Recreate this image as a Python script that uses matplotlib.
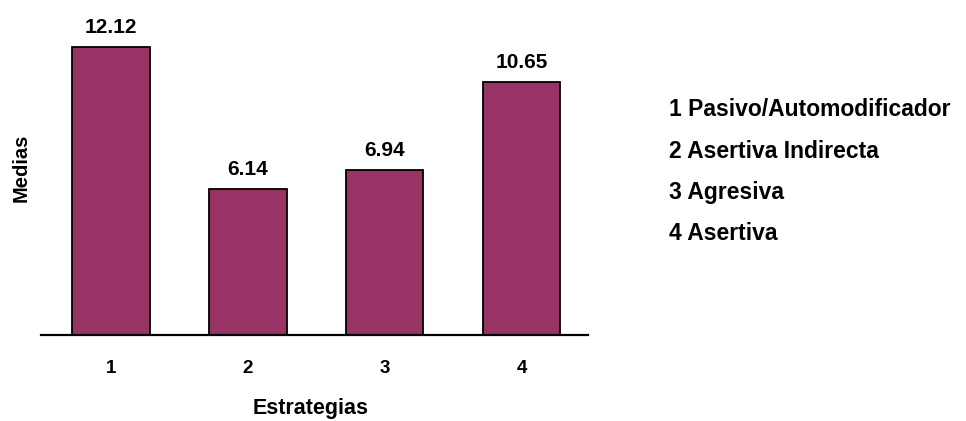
import matplotlib.pyplot as plt

plt.rcParams["font.family"] = ["Liberation Sans", "DejaVu Sans"]
plt.rcParams["font.weight"] = "bold"

strategies = [1, 2, 3, 4]
means = [12.12, 6.14, 6.94, 10.65]
tick_labels = ["1", "2", "3", "4"]
legend_lines = [
    "1 Pasivo/Automodificador",
    "2 Asertiva Indirecta",
    "3 Agresiva",
    "4 Asertiva",
]

W, H = 966, 421
fig = plt.figure(figsize=(W / 100, H / 100), dpi=100)
ax = fig.add_axes([41 / W, 0.2031, 547 / W, 0.791])

bars = ax.bar(strategies, means, width=0.567, color="#993366",
              edgecolor="black", linewidth=1.3, zorder=2)

# value labels above bars
for b, v in zip(bars, means):
    ax.annotate(f"{v:.2f}", (b.get_x() + b.get_width() / 2, v),
                xytext=(0, 10.5), textcoords="offset points",
                ha="center", va="baseline", fontsize=15, fontweight="bold")

ax.set_xlim(0.488, 4.486)
ax.set_ylim(0, 14)
ax.set_xticks(strategies)
ax.set_xticklabels(tick_labels, fontsize=13.5, fontweight="bold")
ax.tick_params(axis="x", length=0, pad=18)
ax.set_yticks([])

for side in ["top", "right", "left"]:
    ax.spines[side].set_visible(False)
ax.spines["bottom"].set_linewidth(1.6)

fig.text(311 / W, 1 - 414 / H, "Estrategias", ha="center", va="baseline",
         fontsize=15.5, fontweight="bold")
fig.text(21 / W, 1 - 168 / H, "Medias", ha="center", va="center",
         rotation=90, fontsize=14.5, fontweight="bold")

# category key on the right
for i, line in enumerate(legend_lines):
    fig.text(669 / W, 1 - (116.5 + 41.2 * i) / H, line,
             ha="left", va="baseline", fontsize=16.5, fontweight="bold")

plt.savefig("out.png", dpi=100)
